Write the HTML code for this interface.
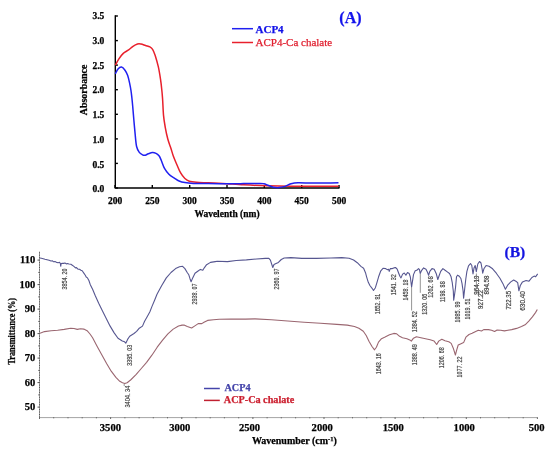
<!DOCTYPE html>
<html><head><meta charset="utf-8"><style>
html,body{margin:0;padding:0;background:#fff;}
body{width:550px;height:451px;overflow:hidden;font-family:"Liberation Serif",serif;}
svg{display:block;will-change:transform;}
</style></head><body>
<svg width="550" height="451" viewBox="0 0 550 451">
<rect width="550" height="451" fill="#fff"/>
<g fill="none" stroke="#000" stroke-width="1.4">
<path d="M115.3,15.3 V188.0 H339.5"/>
<path d="M115.3,188.0 h2.6"/>
<path d="M115.3,163.4 h2.6"/>
<path d="M115.3,138.9 h2.6"/>
<path d="M115.3,114.3 h2.6"/>
<path d="M115.3,89.7 h2.6"/>
<path d="M115.3,65.1 h2.6"/>
<path d="M115.3,40.6 h2.6"/>
<path d="M115.3,16.0 h2.6"/>
<path d="M115.0,188 v-3"/>
<path d="M152.3,188 v-3"/>
<path d="M189.7,188 v-3"/>
<path d="M227.0,188 v-3"/>
<path d="M264.3,188 v-3"/>
<path d="M301.7,188 v-3"/>
<path d="M339.0,188 v-3"/>
</g>
<g font-family="Liberation Serif" font-weight="bold" font-size="9.5" fill="#000" text-anchor="end" stroke="#000" stroke-width="0.25">
<text x="104.3" y="192.3">0.0</text>
<text x="104.3" y="167.6">0.5</text>
<text x="104.3" y="142.9">1.0</text>
<text x="104.3" y="118.2">1.5</text>
<text x="104.3" y="93.4">2.0</text>
<text x="104.3" y="68.7">2.5</text>
<text x="104.3" y="44.0">3.0</text>
<text x="104.3" y="19.3">3.5</text>
</g>
<g font-family="Liberation Serif" font-weight="bold" font-size="9.5" fill="#000" text-anchor="middle" stroke="#000" stroke-width="0.25">
<text x="115.0" y="203.6">200</text>
<text x="152.3" y="203.6">250</text>
<text x="189.7" y="203.6">300</text>
<text x="227.0" y="203.6">350</text>
<text x="264.3" y="203.6">400</text>
<text x="301.7" y="203.6">450</text>
<text x="339.0" y="203.6">500</text>
<text x="227" y="216.6">Wavelenth (nm)</text>
<text transform="translate(87,89.9) rotate(-90)" x="0" y="0" font-size="9.9">Absorbance</text>
</g>
<path d="M115.3,65.2 C115.9,64.1 117.6,60.8 118.9,58.8 C120.2,56.8 121.7,54.9 123.3,53.4 C124.9,51.9 127.0,51.1 128.6,49.9 C130.2,48.7 131.5,47.3 133.0,46.3 C134.5,45.3 136.2,44.4 137.5,44.0 C138.8,43.6 139.7,43.8 141.0,44.0 C142.3,44.2 144.0,45.0 145.5,45.5 C147.0,46.0 148.7,46.3 149.9,46.9 C151.1,47.5 151.7,47.9 152.6,49.3 C153.5,50.7 154.2,52.6 155.2,55.5 C156.1,58.4 157.4,62.8 158.3,66.7 C159.2,70.6 159.9,75.2 160.5,79.1 C161.1,83.0 161.5,86.7 161.8,90.0 C162.2,93.3 162.3,95.0 162.6,99.2 C162.9,103.4 163.1,110.4 163.5,115.1 C163.9,119.8 164.6,123.6 165.3,127.6 C166.0,131.6 166.9,135.6 167.8,139.0 C168.7,142.4 169.9,145.2 170.8,148.0 C171.7,150.8 172.3,153.2 173.3,156.0 C174.3,158.8 175.7,161.9 176.9,164.7 C178.1,167.5 179.2,170.4 180.5,172.7 C181.8,175.0 183.4,177.1 184.9,178.5 C186.4,179.9 187.4,180.6 189.3,181.2 C191.2,181.8 193.3,182.0 196.5,182.3 C199.7,182.6 203.8,182.6 208.2,182.8 C212.6,183.0 216.8,183.1 222.7,183.4 C228.6,183.7 236.2,184.4 243.6,184.8 C251.0,185.2 259.4,185.6 267.3,185.8 C275.2,186.0 279.0,186.1 290.9,186.2 C302.8,186.3 330.6,186.2 338.5,186.2" fill="none" stroke="#e8202c" stroke-width="1.5" stroke-linejoin="round"/>
<path d="M115.3,73.8 C115.8,73.0 117.0,70.1 118.0,69.0 C119.0,67.9 120.3,66.9 121.5,67.1 C122.7,67.3 124.0,68.9 125.0,70.3 C126.0,71.7 127.0,73.5 127.7,75.6 C128.4,77.7 129.0,80.3 129.5,82.7 C130.0,85.1 130.5,87.5 130.9,90.0 C131.3,92.5 131.6,95.3 131.9,98.0 C132.2,100.7 132.4,102.5 132.7,106.3 C133.0,110.0 133.5,115.8 133.9,120.5 C134.3,125.2 134.8,130.3 135.2,134.6 C135.6,138.9 135.9,143.5 136.6,146.5 C137.3,149.5 138.3,151.0 139.3,152.4 C140.3,153.8 141.5,154.3 142.5,154.8 C143.5,155.3 144.3,155.4 145.3,155.2 C146.3,155.0 147.1,154.2 148.3,153.8 C149.5,153.4 151.2,152.7 152.5,152.6 C153.8,152.5 154.9,152.9 156.0,153.4 C157.1,153.9 158.1,154.7 159.0,155.8 C159.9,156.9 160.3,158.1 161.2,160.2 C162.1,162.3 163.2,166.1 164.5,168.4 C165.8,170.7 167.3,172.6 168.9,174.2 C170.5,175.8 172.3,176.7 174.0,177.8 C175.7,178.9 177.3,180.2 179.1,181.0 C180.9,181.8 182.5,182.2 184.9,182.6 C187.3,183.0 189.7,183.2 193.6,183.4 C197.5,183.6 202.1,183.5 208.2,183.6 C214.3,183.7 224.1,183.8 230.0,183.8 C235.9,183.8 238.6,183.7 243.6,183.6 C248.6,183.5 256.8,183.4 260.2,183.4 C263.6,183.4 262.8,183.5 264.0,183.8 C265.2,184.1 265.8,184.4 267.3,185.0 C268.8,185.6 271.2,186.8 273.2,187.2 C275.2,187.6 277.1,187.7 279.1,187.6 C281.1,187.5 283.0,187.0 285.0,186.4 C287.0,185.8 288.7,184.4 290.9,183.8 C293.1,183.2 294.1,182.9 298.0,182.8 C301.9,182.7 307.9,183.1 314.6,183.1 C321.4,183.1 334.5,182.8 338.5,182.7" fill="none" stroke="#2020f0" stroke-width="1.5" stroke-linejoin="round"/>
<path d="M232,28.7 H253" stroke="#2020f0" stroke-width="1.5"/>
<path d="M232,42.5 H253" stroke="#e8202c" stroke-width="1.5"/>
<text x="255.5" y="33" font-family="Liberation Serif" font-weight="bold" font-size="11" fill="#1010e8" stroke="#1010e8" stroke-width="0.25">ACP4</text>
<text x="255.5" y="45.8" font-family="Liberation Serif" font-size="11" fill="#e02030" stroke="#e02030" stroke-width="0.25">ACP4-Ca chalate</text>
<text x="339.3" y="22.8" font-family="Liberation Serif" font-weight="bold" font-size="16" fill="#1414ec" stroke="#1414ec" stroke-width="0.25">(A)</text>
<g fill="none" stroke="#a4a4a4" stroke-width="1">
<path d="M39.5,251.5 V417.6 H537.4"/>
</g>
<g fill="none" stroke="#555" stroke-width="1">
<path d="M39,416.9 h1 M39,414.5 h1 M39,412.0 h1 M39,409.6 h1 M37.5,407.1 h2.5 M39,404.7 h1 M39,402.2 h1 M39,399.8 h1 M39,397.3 h1 M38.3,394.9 h1.7 M39,392.4 h1 M39,390.0 h1 M39,387.5 h1 M39,385.1 h1 M37.5,382.6 h2.5 M39,380.2 h1 M39,377.7 h1 M39,375.2 h1 M39,372.8 h1 M38.3,370.4 h1.7 M39,367.9 h1 M39,365.5 h1 M39,363.0 h1 M39,360.6 h1 M37.5,358.1 h2.5 M39,355.7 h1 M39,353.2 h1 M39,350.8 h1 M39,348.3 h1 M38.3,345.9 h1.7 M39,343.4 h1 M39,341.0 h1 M39,338.5 h1 M39,336.1 h1 M37.5,333.6 h2.5 M39,331.2 h1 M39,328.7 h1 M39,326.2 h1 M39,323.8 h1 M38.3,321.4 h1.7 M39,318.9 h1 M39,316.5 h1 M39,314.0 h1 M39,311.6 h1 M37.5,309.1 h2.5 M39,306.7 h1 M39,304.2 h1 M39,301.8 h1 M39,299.3 h1 M38.3,296.9 h1.7 M39,294.4 h1 M39,292.0 h1 M39,289.5 h1 M39,287.1 h1 M37.5,284.6 h2.5 M39,282.2 h1 M39,279.7 h1 M39,277.2 h1 M39,274.8 h1 M38.3,272.4 h1.7 M39,269.9 h1 M39,267.5 h1 M39,265.0 h1 M39,262.6 h1 M37.5,260.1 h2.5 M39,257.7 h1 M39,255.2 h1 M39,252.8 h1 M39.5,417.3 v1.6 M53.7,417.3 v1.0 M68.0,417.3 v1.0 M82.2,417.3 v1.0 M96.4,417.3 v1.0 M110.6,417.3 v1.6 M124.9,417.3 v1.0 M139.1,417.3 v1.0 M153.3,417.3 v1.0 M167.5,417.3 v1.0 M181.8,417.3 v1.6 M196.0,417.3 v1.0 M210.2,417.3 v1.0 M224.4,417.3 v1.0 M238.7,417.3 v1.0 M252.9,417.3 v1.6 M267.1,417.3 v1.0 M281.3,417.3 v1.0 M295.6,417.3 v1.0 M309.8,417.3 v1.0 M324.0,417.3 v1.6 M338.2,417.3 v1.0 M352.5,417.3 v1.0 M366.7,417.3 v1.0 M380.9,417.3 v1.0 M395.1,417.3 v1.6 M409.4,417.3 v1.0 M423.6,417.3 v1.0 M437.8,417.3 v1.0 M452.0,417.3 v1.0 M466.3,417.3 v1.6 M480.5,417.3 v1.0 M494.7,417.3 v1.0 M508.9,417.3 v1.0 M523.2,417.3 v1.0 M537.4,417.3 v1.6"/>
</g>
<g font-family="Liberation Serif" font-weight="bold" font-size="10.5" fill="#000" text-anchor="end" stroke="#000" stroke-width="0.25">
<text x="35.2" y="410.3">50</text>
<text x="35.2" y="385.8">60</text>
<text x="35.2" y="361.3">70</text>
<text x="35.2" y="336.8">80</text>
<text x="35.2" y="312.3">90</text>
<text x="35.2" y="287.8">100</text>
<text x="35.2" y="263.3">110</text>
</g>
<g font-family="Liberation Serif" font-weight="bold" font-size="10.6" fill="#000" text-anchor="middle" stroke="#000" stroke-width="0.25">
<text x="110.4" y="430.7">3500</text>
<text x="179.8" y="430.7">3000</text>
<text x="249.5" y="430.7">2500</text>
<text x="322.2" y="430.7">2000</text>
<text x="393.3" y="430.7">1500</text>
<text x="464.2" y="430.7">1000</text>
<text x="536.7" y="430.7">500</text>
<text x="294.4" y="444.2" font-size="10">Wavenumber (cm<tspan font-size="6.5" dy="-3.5">-1</tspan><tspan dy="3.5">)</tspan></text>
<text transform="translate(15.4,331.3) rotate(-90)" x="0" y="0" font-size="9.4" textLength="66.6" lengthAdjust="spacingAndGlyphs">Transmittance (%)</text>
</g>
<path d="M39.8,333.2 L40.7,332.9 L44.5,331.6 L51.1,330.7 L57.6,330.2 L64.2,329.4 L70.7,328.3 L74.0,328.5 L77.3,329.4 L80.5,328.8 L83.8,329.1 L87.1,330.7 L90.0,334.0 L92.6,337.8 L97.2,346.4 L101.9,354.9 L106.6,363.5 L111.2,371.2 L115.9,377.4 L119.8,381.3 L122.5,382.8 L124.8,383.6 L127.1,382.7 L130.6,380.0 L136.0,374.7 L141.3,368.5 L146.6,362.3 L151.9,355.2 L157.2,347.2 L162.6,340.1 L167.9,333.9 L173.2,329.1 L178.5,326.0 L182.1,325.1 L184.0,325.0 L187.3,326.5 L191.6,328.0 L194.5,326.1 L198.2,323.6 L201.8,323.6 L204.0,322.2 L207.6,320.4 L213.5,319.8 L219.3,319.3 L230.9,319.1 L245.5,319.1 L255.0,318.9 L271.4,319.7 L287.7,321.0 L304.1,322.2 L320.5,323.3 L336.8,324.4 L347.3,325.1 L354.5,326.5 L358.9,328.3 L363.3,331.2 L366.2,335.5 L369.1,341.4 L372.0,346.5 L374.5,349.8 L376.4,347.2 L378.5,342.1 L381.5,338.7 L385.1,337.0 L389.5,334.8 L393.8,333.4 L396.7,333.8 L399.6,336.3 L402.5,337.7 L406.9,338.7 L409.8,339.9 L411.3,341.1 L413.5,338.2 L416.4,336.7 L420.9,337.7 L425.5,338.7 L430.2,339.8 L434.1,341.1 L436.7,344.5 L438.7,341.1 L441.8,339.2 L445.0,340.8 L448.8,341.8 L451.2,343.4 L453.5,348.8 L455.4,355.0 L456.6,350.4 L458.2,345.0 L460.5,343.9 L463.6,342.6 L465.9,337.2 L469.0,334.5 L472.1,333.3 L475.2,331.7 L478.3,330.2 L481.5,331.0 L483.7,329.6 L488.5,329.6 L491.6,330.2 L494.6,331.5 L497.1,330.0 L500.7,330.2 L504.4,330.9 L508.0,330.2 L511.7,329.6 L516.6,328.4 L521.5,326.6 L525.1,324.8 L528.8,321.1 L532.4,316.8 L535.5,312.6 L537.3,309.5" fill="none" stroke="#9a6670" stroke-width="1.1" stroke-linejoin="round"/>
<path d="M39.8,258.0 L41.4,258.2 L45.0,259.2 L49.1,260.2 L51.0,261.0 L52.5,260.8 L53.6,261.8 L55.0,261.5 L56.5,262.4 L58.2,262.7 L59.5,262.3 L60.4,263.6 L60.7,266.3 L61.2,263.5 L62.5,263.2 L63.6,263.4 L65.0,263.0 L66.3,263.9 L67.3,263.5 L69.0,264.0 L70.9,264.3 L72.3,265.2 L73.6,266.1 L75.5,267.9 L76.5,267.6 L78.2,269.3 L79.5,269.2 L80.9,270.2 L82.2,270.8 L84.0,273.4 L85.3,275.2 L86.2,277.0 L87.5,277.9 L88.9,280.5 L90.2,284.4 L92.7,289.5 L95.3,295.8 L98.7,303.3 L102.0,310.0 L106.0,317.9 L110.0,325.9 L114.0,332.6 L118.0,338.3 L122.3,341.0 L124.6,341.8 L125.8,343.2 L127.6,339.4 L129.7,336.2 L134.0,333.5 L136.6,331.4 L139.3,328.2 L142.5,326.1 L144.6,321.3 L147.3,316.5 L149.9,311.7 L152.0,306.4 L154.7,300.0 L157.0,294.2 L161.6,285.7 L166.3,277.9 L171.0,272.5 L175.6,268.6 L179.5,266.8 L182.6,266.3 L184.9,268.6 L187.2,272.5 L188.8,274.8 L190.0,278.7 L191.1,281.8 L192.7,277.9 L195.0,273.3 L198.1,271.0 L200.4,269.4 L202.8,270.2 L204.3,267.8 L206.6,264.7 L210.5,262.4 L215.2,261.6 L217.3,261.3 L227.5,261.6 L236.2,260.5 L246.4,259.9 L256.5,259.0 L265.3,258.4 L268.9,258.4 L270.4,260.2 L271.8,264.5 L272.8,267.5 L274.0,264.5 L275.5,263.8 L278.4,262.4 L281.3,259.5 L284.2,258.0 L290.9,257.6 L301.8,258.4 L316.4,258.4 L330.9,258.0 L341.8,257.6 L349.1,258.2 L353.6,260.0 L357.3,262.7 L360.9,266.4 L363.6,268.2 L365.5,272.7 L366.6,276.8 L368.3,282.3 L369.9,285.5 L372.1,288.3 L373.5,290.5 L375.4,287.7 L377.0,282.3 L378.6,276.8 L380.8,270.8 L383.0,268.3 L385.7,268.6 L387.4,269.7 L388.5,269.2 L389.2,271.4 L390.3,268.6 L392.3,268.6 L393.9,267.9 L395.5,267.5 L397.2,269.2 L398.8,273.5 L399.9,276.3 L401.0,277.9 L402.6,274.1 L404.3,273.0 L405.9,275.2 L407.5,272.5 L409.2,273.5 L410.3,276.8 L411.0,282.3 L411.6,287.0 L412.5,281.2 L413.5,274.6 L415.2,270.8 L416.8,270.3 L418.5,268.6 L419.5,269.7 L420.2,273.5 L421.7,270.3 L423.6,267.9 L426.0,269.2 L427.6,272.5 L428.6,275.3 L429.8,271.4 L432.0,268.6 L434.2,269.2 L436.4,274.1 L437.8,279.5 L439.1,275.7 L440.7,271.4 L442.9,268.6 L445.1,270.3 L447.3,271.9 L449.5,273.5 L451.1,276.8 L452.2,282.3 L453.3,291.0 L453.7,300.2 L454.5,295.0 L455.5,287.7 L456.5,276.8 L457.6,275.2 L459.3,276.3 L460.9,278.5 L462.0,283.4 L463.1,291.0 L463.6,298.2 L464.7,288.8 L465.8,279.0 L466.9,271.4 L468.5,265.9 L470.5,263.5 L471.8,265.5 L472.5,270.5 L473.0,274.0 L474.0,268.1 L475.2,265.5 L476.3,271.7 L477.8,264.0 L479.5,261.5 L481.0,263.0 L482.2,269.5 L482.7,273.2 L483.9,268.8 L486.1,265.5 L489.0,266.3 L492.6,268.8 L496.3,273.2 L499.9,278.3 L502.8,283.4 L505.4,289.2 L507.9,284.8 L510.8,281.9 L513.7,280.0 L515.9,281.2 L517.7,282.6 L518.9,290.8 L520.3,285.5 L522.5,281.9 L526.1,280.5 L529.0,281.2 L531.9,277.5 L534.1,276.1 L535.5,276.8 L537.7,273.9" fill="none" stroke="#565690" stroke-width="1.1" stroke-linejoin="round"/>
<g font-family="Liberation Sans" font-size="7.2" fill="#444" stroke="#444" stroke-width="0.2">
<text transform="translate(67.1,289.5) rotate(-90)" textLength="21.0" lengthAdjust="spacingAndGlyphs">3854. 20</text>
<text transform="translate(132.0,365.8) rotate(-90)" textLength="21.0" lengthAdjust="spacingAndGlyphs">3395. 03</text>
<text transform="translate(130.2,407.6) rotate(-90)" textLength="22.0" lengthAdjust="spacingAndGlyphs">3404. 34</text>
<text transform="translate(196.8,304.6) rotate(-90)" textLength="21.0" lengthAdjust="spacingAndGlyphs">2938. 07</text>
<text transform="translate(278.9,289.5) rotate(-90)" textLength="21.0" lengthAdjust="spacingAndGlyphs">2360. 97</text>
<text transform="translate(379.9,314.3) rotate(-90)" textLength="20.6" lengthAdjust="spacingAndGlyphs">1652. 81</text>
<text transform="translate(396.2,295.2) rotate(-90)" textLength="21.0" lengthAdjust="spacingAndGlyphs">1541. 32</text>
<text transform="translate(407.5,300.5) rotate(-90)" textLength="21.0" lengthAdjust="spacingAndGlyphs">1458. 18</text>
<text transform="translate(417.3,332.2) rotate(-90)" textLength="21.0" lengthAdjust="spacingAndGlyphs">1384. 52</text>
<text transform="translate(426.9,314.8) rotate(-90)" textLength="21.0" lengthAdjust="spacingAndGlyphs">1320. 06</text>
<text transform="translate(432.9,297.7) rotate(-90)" textLength="21.4" lengthAdjust="spacingAndGlyphs">1262. 68</text>
<text transform="translate(444.5,302.3) rotate(-90)" textLength="21.0" lengthAdjust="spacingAndGlyphs">1198. 88</text>
<text transform="translate(459.9,322.5) rotate(-90)" textLength="21.0" lengthAdjust="spacingAndGlyphs">1085. 99</text>
<text transform="translate(469.9,319.6) rotate(-90)" textLength="21.0" lengthAdjust="spacingAndGlyphs">1019. 51</text>
<text transform="translate(478.5,294.7) rotate(-90)" textLength="19.2" lengthAdjust="spacingAndGlyphs">964.19</text>
<text transform="translate(483.4,309.0) rotate(-90)" textLength="19.0" lengthAdjust="spacingAndGlyphs">927.22</text>
<text transform="translate(488.9,294.5) rotate(-90)" textLength="19.0" lengthAdjust="spacingAndGlyphs">894.58</text>
<text transform="translate(511.4,309.5) rotate(-90)" textLength="18.5" lengthAdjust="spacingAndGlyphs">722.35</text>
<text transform="translate(524.9,310.7) rotate(-90)" textLength="19.5" lengthAdjust="spacingAndGlyphs">630.40</text>
<text transform="translate(380.5,374.2) rotate(-90)" textLength="21.0" lengthAdjust="spacingAndGlyphs">1643. 16</text>
<text transform="translate(417.2,365.2) rotate(-90)" textLength="21.0" lengthAdjust="spacingAndGlyphs">1388. 49</text>
<text transform="translate(443.6,368.3) rotate(-90)" textLength="21.0" lengthAdjust="spacingAndGlyphs">1206. 68</text>
<text transform="translate(462.3,377.6) rotate(-90)" textLength="21.0" lengthAdjust="spacingAndGlyphs">1077. 22</text>
</g>
<g stroke="#7a7a7a" stroke-width="0.8">
<path d="M411.6,287 V310.5"/>
<path d="M420.3,274 V292.8"/>
<path d="M476.4,273.5 V289.5"/>
<path d="M124.2,384 V386"/>
</g>
<path d="M204,388.5 H219.8" stroke="#4444aa" stroke-width="1.5"/>
<path d="M204,400.4 H219.8" stroke="#c02030" stroke-width="1.5"/>
<text x="224.5" y="390.8" font-family="Liberation Serif" font-weight="bold" font-size="10.2" fill="#4444aa" stroke="#4444aa" stroke-width="0.25">ACP4</text>
<text x="223.8" y="403" font-family="Liberation Serif" font-weight="bold" font-size="10.2" fill="#cc2030" stroke="#cc2030" stroke-width="0.25">ACP-Ca chalate</text>
<text x="504.5" y="256.6" font-family="Liberation Serif" font-weight="bold" font-size="15.6" fill="#1414e0" stroke="#1414e0" stroke-width="0.25">(B)</text>
</svg>
</body></html>
